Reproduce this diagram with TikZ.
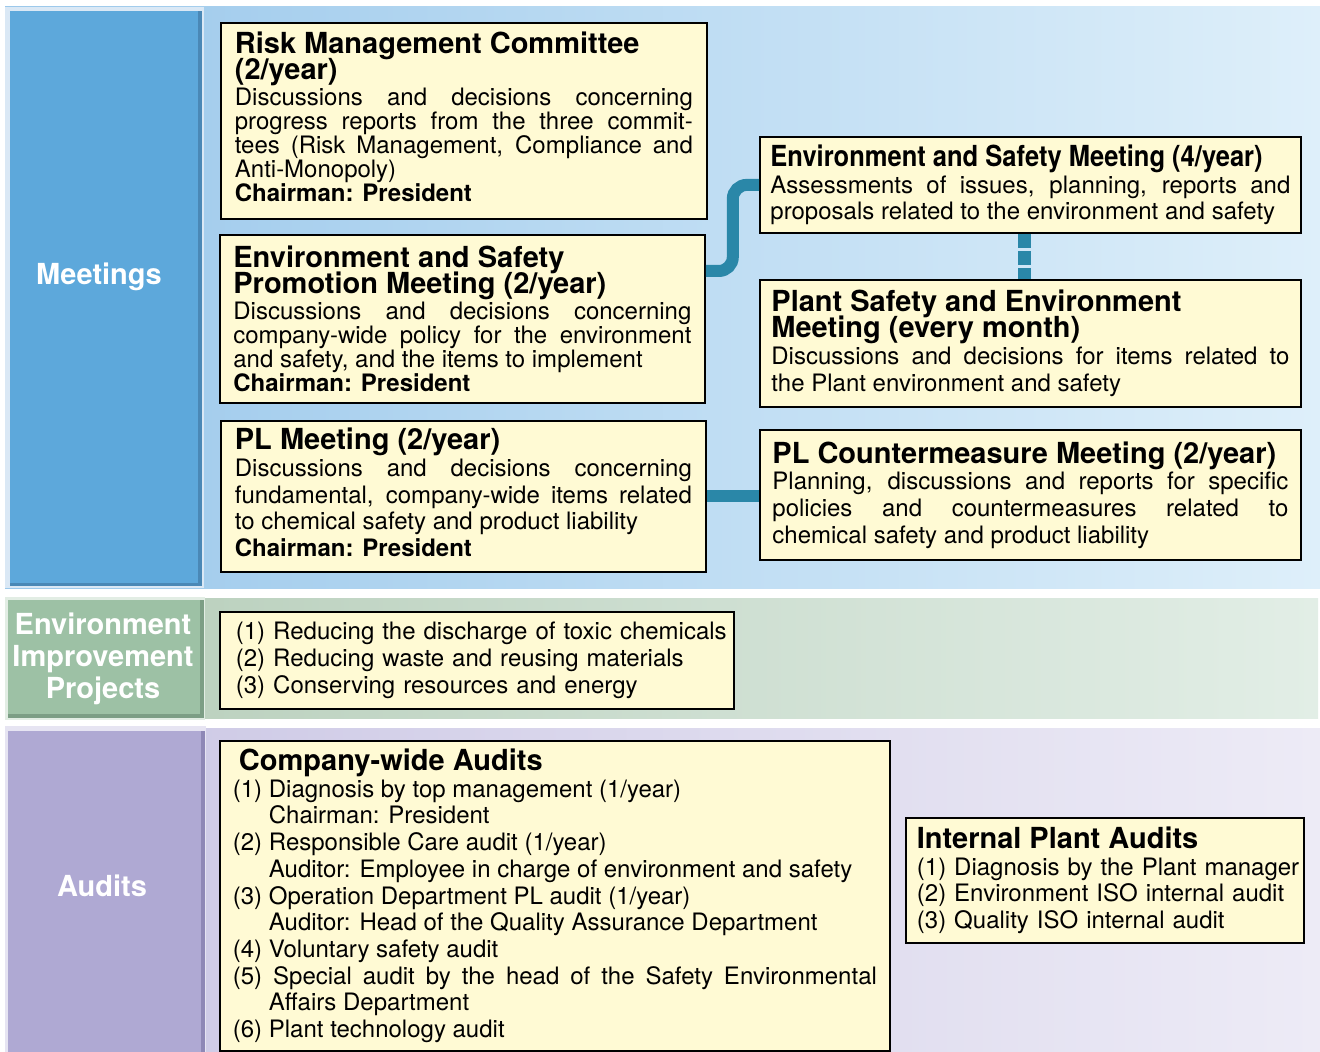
\documentclass[tikz,border=0pt]{standalone}
\usepackage{fontspec}
\setmainfont{TeX Gyre Heros}
\newfontfamily\condfont[FakeStretch=0.88]{TeX Gyre Heros}
\usetikzlibrary{positioning}
\setlength{\parindent}{0pt}
\lineskiplimit=-10pt
\hyphenpenalty=10000

\definecolor{cream}{HTML}{FFFAD4}
\definecolor{linkteal}{HTML}{2A87A8}
\definecolor{meetblue}{HTML}{5DA8DB}
\definecolor{meetdark}{HTML}{4A88B6}
\definecolor{meetframe}{HTML}{DAE8F5}
\definecolor{meetL}{HTML}{9BC8EB}
\definecolor{meetR}{HTML}{DEEFFA}
\definecolor{envgreen}{HTML}{9DC1A5}
\definecolor{envdark}{HTML}{7C9E85}
\definecolor{envframe}{HTML}{E2EDE4}
\definecolor{envL}{HTML}{B6CDB9}
\definecolor{envR}{HTML}{E2EEE6}
\definecolor{audpurple}{HTML}{AFA9D3}
\definecolor{auddark}{HTML}{8E88B6}
\definecolor{audframe}{HTML}{E6E4F2}
\definecolor{audL}{HTML}{CAC6E4}
\definecolor{audR}{HTML}{EDEBF6}

\tikzset{
  card/.style={draw=black, line width=0.9pt, fill=cream, anchor=north west,
    inner ysep=2pt, align=justify, font=\fontsize{12}{13.35}\selectfont},
  list/.style={card, align=left, inner xsep=0.5pt},
  tag/.style={text=white, font=\fontsize{14.5}{16}\selectfont\bfseries, align=center},
  link/.style={draw=linkteal, line width=6pt},
}
\newcommand\hd{\fontsize{14.5}{13}\selectfont\bfseries\lineskiplimit=-10pt }
\newcommand\itm{\par\hangindent=18pt\hangafter=1 }
\newcommand\lift{\rule[-4pt]{0pt}{4pt}}

\begin{document}
\begin{tikzpicture}[x=0.5pt,y=-0.5pt]
\useasboundingbox (0,0) rectangle (1320,1052);

% bands
\shade[left color=meetL, right color=meetR] (5,7) rectangle (1320,588);
\fill[meetframe] (5,7) rectangle (204,588);
\fill[meetdark] (10,11) rectangle (202,586);
\fill[meetblue] (10,11) rectangle (198,583);
\node[tag] (meetings) at (99,277) {Meetings};

\shade[left color=envL, right color=envR] (5,598) rectangle (1318,718);
\fill[envframe] (5,597) rectangle (205,720);
\fill[envdark] (8,600) rectangle (204,718);
\fill[envgreen] (8,600) rectangle (200,714);
\node[tag] (improvement) at (103,659) {Environment\\Improvement\\Projects};

\shade[left color=audL, right color=audR] (5,728) rectangle (1320,1052);
\fill[audframe] (5,726) rectangle (206,1052);
\fill[auddark] (8,731) rectangle (205,1052);
\fill[audpurple] (8,731) rectangle (201,1052);
\node[tag] (audits) at (102,886) {Audits};

% meetings
\node[card, text width=229pt, inner xsep=7pt, minimum height=98pt] (risk) at (220,22)
  {{\hd Risk Management Committee\par (2/year)\par}\vspace{1pt}
   {\fontsize{12}{12}\selectfont Discussions and decisions concerning\linebreak
    progress reports from the three commit-\linebreak
    tees (Risk Management, Compliance and\linebreak
    Anti-Monopoly)\\\textbf{Chairman: President}\lift\par}};
\node[card, text width=229pt, inner xsep=6.75pt, minimum height=84pt] (promo) at (219,234)
  {{\hd Environment and Safety\par Promotion Meeting (2/year)\par}\vspace{1pt}
   {\fontsize{12}{12}\selectfont Discussions and decisions concerning\linebreak
    company-wide policy for the environment\linebreak
    and safety, and the items to implement\\\textbf{Chairman: President}\par}};
\node[card, text width=228.5pt, inner xsep=7pt, minimum height=75.5pt] (plmeet) at (220,420)
  {{\hd PL Meeting (2/year)\par}
   Discussions and decisions concerning\linebreak
   fundamental, company-wide items related\linebreak
   to chemical safety and product liability\\\textbf{Chairman: President}\lift};

\node[card, text width=260pt, inner xsep=5.25pt, minimum height=48pt] (esmeet) at (759,136)
  {{\condfont\hd Environment and Safety Meeting (4/year)\par}
   Assessments of issues, planning, reports and\linebreak
   proposals related to the environment and safety};
\node[card, text width=259pt, inner xsep=5.75pt, minimum height=63.5pt] (plant) at (759,279)
  {{\hd Plant Safety and Environment\par Meeting (every month)\par}
   Discussions and decisions for items related to\linebreak
   the Plant environment and safety};
\node[card, text width=258pt, inner xsep=6.25pt, minimum height=65pt] (plcount) at (759,429)
  {{\hd PL Countermeasure Meeting (2/year)\par}
   Planning, discussions and reports for specific\linebreak
   policies and countermeasures related to\linebreak
   chemical safety and product liability};

% links
\draw[link, rounded corners=7pt] ([yshift=-18.5pt]promo.north east) -- ++(27,0) |- (esmeet.west);
\draw[link, line width=6.5pt, dash pattern=on 7pt off 1.5pt]
  ([xshift=-3pt]esmeet.south) -- ([xshift=-3pt]plant.north);
\draw[link] (plmeet.east) -- (plmeet.east -| plcount.west);

% projects
\node[list, text width=256pt, minimum height=48.5pt] (projects) at (219,611)
  {\hspace*{7.5pt}(1) Reducing the discharge of toxic chemicals\\
   \hspace*{7.5pt}(2) Reducing waste and reusing materials\\
   \hspace*{7.5pt}(3) Conserving resources and energy};

% audits
\node[card, text width=322pt, inner xsep=6.5pt, minimum height=155pt] (company) at (219,740)
  {{\hd\hspace{3pt}Company-wide Audits\par}
   \itm (1) Diagnosis by top management (1/year)\\Chairman: President
   \itm (2) Responsible Care audit (1/year)\\Auditor: Employee in charge of environment and safety
   \itm (3) Operation Department PL audit (1/year)\\Auditor: Head of the Quality Assurance Department
   \itm (4) Voluntary safety audit
   \itm (5) Special audit by the head of the Safety Environmental\linebreak Affairs Department
   \itm (6) Plant technology audit\par};
\node[list, text width=198pt, minimum height=62.5pt] (internal) at (905,817)
  {{\hd\hspace*{5pt}Internal Plant Audits\par}
   \hspace*{5pt}(1) Diagnosis by the Plant manager\\
   \hspace*{5pt}(2) Environment ISO internal audit\\
   \hspace*{5pt}(3) Quality ISO internal audit};
\end{tikzpicture}
\end{document}
